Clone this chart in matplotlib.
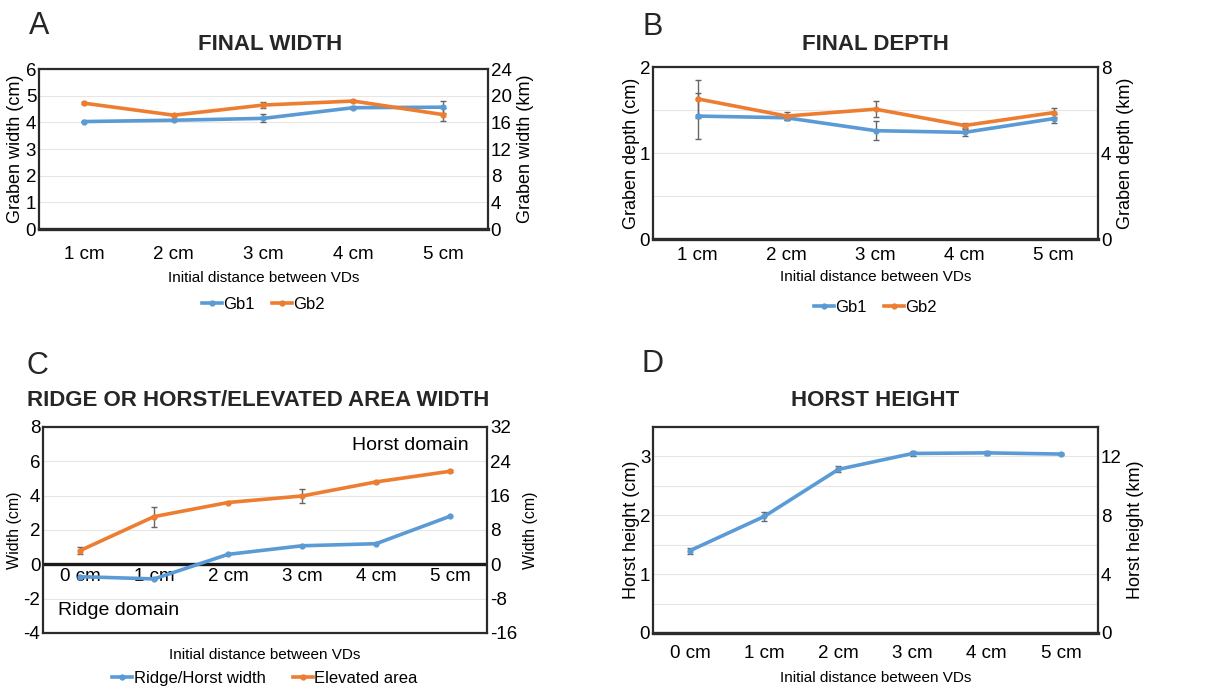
import matplotlib.pyplot as plt
from matplotlib.lines import Line2D
import numpy as np

plt.rcParams['font.family'] = ['Liberation Sans', 'DejaVu Sans']
plt.rcParams['axes.unicode_minus'] = False

blue = '#5b9bd5'
orange = '#ed7d31'

# A - final width (cm)
cats_a = ['1 cm', '2 cm', '3 cm', '4 cm', '5 cm']
gb1_width = [4.03, 4.08, 4.15, 4.55, 4.57]
gb1_width_err = [0.03, 0.04, 0.15, 0.05, 0.22]
gb2_width = [4.72, 4.27, 4.65, 4.80, 4.29]
gb2_width_err = [0.04, 0.04, 0.12, 0.05, 0.25]

# B - final depth (cm)
cats_b = ['1 cm', '2 cm', '3 cm', '4 cm', '5 cm']
gb1_depth = [1.43, 1.41, 1.26, 1.24, 1.40]
gb1_depth_err = [0.27, 0.03, 0.11, 0.04, 0.05]
gb2_depth = [1.63, 1.43, 1.51, 1.32, 1.47]
gb2_depth_err = [0.22, 0.05, 0.09, 0.03, 0.05]

# C - ridge/horst and elevated area width (cm)
cats_c = ['0 cm', '1 cm', '2 cm', '3 cm', '4 cm', '5 cm']
ridge_width = [-0.72, -0.85, 0.58, 1.08, 1.20, 2.80]
elevated = [0.80, 2.78, 3.60, 3.98, 4.80, 5.42]
elevated_err = [0.20, 0.58, 0.05, 0.38, 0.05, 0.05]

# D - horst height (cm)
cats_d = ['0 cm', '1 cm', '2 cm', '3 cm', '4 cm', '5 cm']
horst_height = [1.40, 1.98, 2.78, 3.05, 3.06, 3.04]
horst_height_err = [0.05, 0.07, 0.05, 0.05, 0.03, 0.02]

fig = plt.figure(figsize=(12.3, 6.89), dpi=100)
TICK = 13.5


def style(ax, lo, hi, major, minor=None, xpad=12):
    ax.set_ylim(lo, hi)
    ax.set_yticks(np.arange(lo, hi + 0.001, major))
    if minor:
        ax.set_yticks(np.arange(lo, hi + 0.001, minor), minor=True)
        ax.grid(axis='y', which='minor', color='#e6e6e6', lw=0.8)
    ax.grid(axis='y', which='major', color='#e6e6e6', lw=0.8)
    ax.set_axisbelow(True)
    ax.tick_params(which='both', length=0, labelsize=TICK, pad=2)
    ax.tick_params(axis='x', pad=xpad)
    for s in ax.spines.values():
        s.set_color('#2b2b2b')
        s.set_linewidth(1.6)
    ax.spines['bottom'].set_linewidth(2.4)


def series(ax, y, err, color, label):
    x = np.arange(len(y))
    ax.errorbar(x, y, yerr=err, color=color, lw=2.6, marker='o', ms=3.5,
                ecolor='#666666', elinewidth=1, capsize=2, label=label, zorder=3)


def right_axis(ax, lo, hi, step, label, size=13):
    r = ax.twinx()
    r.set_ylim(lo, hi)
    r.set_yticks(np.arange(lo, hi + 0.001, step))
    r.tick_params(length=0, labelsize=TICK, pad=2)
    for s in r.spines.values():
        s.set_visible(False)
    r.set_ylabel(label, fontsize=size, labelpad=4)
    return r


def legend(ax, labels, colors, y, spacing):
    handles = [Line2D([], [], color=c, lw=2.6, marker='o', ms=3.5) for c in colors]
    ax.legend(handles, labels, loc='center', bbox_to_anchor=(0.5, y), ncol=len(labels),
              frameon=False, fontsize=12, handlelength=1.2, handletextpad=0.1,
              columnspacing=spacing, borderaxespad=0, borderpad=0)


# Panel A
axA = fig.add_axes([0.0317, 0.6676, 0.365, 0.2322])
series(axA, gb1_width, gb1_width_err, blue, 'Gb1')
series(axA, gb2_width, gb2_width_err, orange, 'Gb2')
axA.set_xlim(-0.5, len(cats_a) - 0.5)
axA.set_xticks(range(len(cats_a)), cats_a)
style(axA, 0, 6, 1)
axA.set_ylabel('Graben width (cm)', fontsize=13, labelpad=1)
axA.set_xlabel('Initial distance between VDs', fontsize=11, labelpad=6)
right_axis(axA, 0, 24, 4, 'Graben width (km)')
legend(axA, ['Gb1', 'Gb2'], [blue, orange], -0.47, 1.0)

# Panel B
axB = fig.add_axes([0.5309, 0.6531, 0.3618, 0.2496])
series(axB, gb1_depth, gb1_depth_err, blue, 'Gb1')
series(axB, gb2_depth, gb2_depth_err, orange, 'Gb2')
axB.set_xlim(-0.5, len(cats_b) - 0.5)
axB.set_xticks(range(len(cats_b)), cats_b)
style(axB, 0, 2, 1, 0.5, xpad=6)
axB.set_ylabel('Graben depth (cm)', fontsize=13, labelpad=0)
axB.set_xlabel('Initial distance between VDs', fontsize=11, labelpad=4)
right_axis(axB, 0, 8, 4, 'Graben depth (km)')
legend(axB, ['Gb1', 'Gb2'], [blue, orange], -0.4, 1.0)

# Panel C
axC = fig.add_axes([0.035, 0.0813, 0.361, 0.299])
series(axC, ridge_width, None, blue, 'Ridge/Horst width')
series(axC, elevated, elevated_err, orange, 'Elevated area')
axC.set_xlim(-0.5, len(cats_c) - 0.5)
style(axC, -4, 8, 2)
axC.set_xticks([])
axC.spines['bottom'].set_linewidth(1.6)
axC.axhline(0, color='#1a1a1a', lw=2.4, zorder=2)
secC = axC.secondary_xaxis(1 / 3)
secC.set_xticks(range(len(cats_c)), cats_c)
secC.tick_params(length=0, labelsize=TICK, pad=3)
secC.spines['bottom'].set_visible(False)
axC.set_ylabel('Width (cm)', fontsize=11.5, labelpad=1)
axC.set_xlabel('Initial distance between VDs', fontsize=11, labelpad=11)
right_axis(axC, -16, 32, 8, 'Width (cm)', size=11.5)
axC.text(5.25, 6.9, 'Horst domain', fontsize=14, ha='right', va='center')
axC.text(-0.3, -2.7, 'Ridge domain', fontsize=14, ha='left', va='center')
legend(axC, ['Ridge/Horst width', 'Elevated area'], [blue, orange], -0.22, 1.6)

# Panel D
axD = fig.add_axes([0.5309, 0.0813, 0.3618, 0.299])
series(axD, horst_height, horst_height_err, blue, 'Horst height')
axD.set_xlim(-0.5, len(cats_d) - 0.5)
axD.set_xticks(range(len(cats_d)), cats_d)
style(axD, 0, 3.5, 1, 0.5, xpad=9)
axD.set_yticks([0, 1, 2, 3])
axD.set_ylabel('Horst height (cm)', fontsize=13, labelpad=0)
axD.set_xlabel('Initial distance between VDs', fontsize=11, labelpad=6)
right_axis(axD, 0, 14, 4, 'Horst height (km)')

# titles and panel letters
fig.text(270 / 1230, 1 - 45 / 689, 'FINAL WIDTH', fontsize=16, fontweight='bold',
         ha='center', va='center', color='#262626')
fig.text(875 / 1230, 1 - 45 / 689, 'FINAL DEPTH', fontsize=16, fontweight='bold',
         ha='center', va='center', color='#262626')
fig.text(27 / 1230, 1 - 400 / 689, 'RIDGE OR HORST/ELEVATED AREA WIDTH', fontsize=16,
         fontweight='bold', ha='left', va='center', color='#262626')
fig.text(875 / 1230, 1 - 400 / 689, 'HORST HEIGHT', fontsize=16, fontweight='bold',
         ha='center', va='center', color='#262626')
for lbl, x, y in [('A', 39, 26), ('B', 653, 27), ('C', 37, 366), ('D', 653, 364)]:
    fig.text(x / 1230, 1 - y / 689, lbl, fontsize=22, ha='center', va='center', color='#262626')

fig.savefig('out.png', dpi=100)
